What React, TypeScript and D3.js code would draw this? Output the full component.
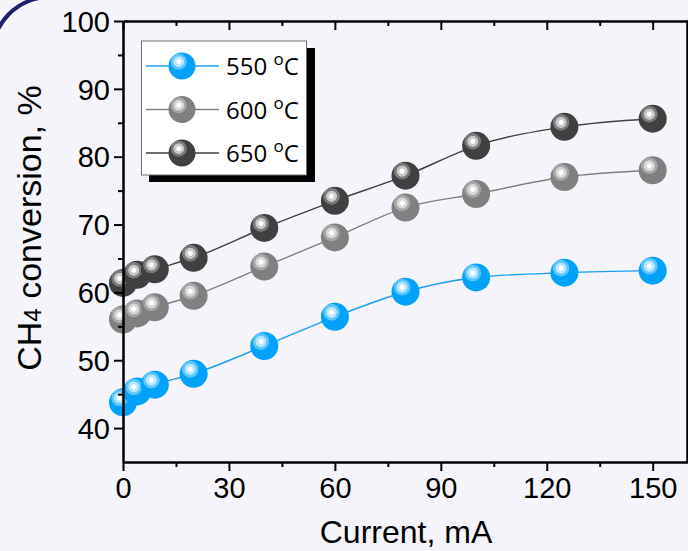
import React, { useEffect, useRef } from 'react';
import * as d3 from 'd3';

// current (mA) and CH4 conversion (%) per temperature
const current = [0, 4, 9, 20, 40, 60, 80, 100, 125, 150];
const conv550 = [43.8, 45.4, 46.4, 48.0, 52.1, 56.4, 60.1, 62.2, 62.9, 63.2];
const conv600 = [56.0, 56.9, 57.8, 59.5, 63.8, 68.1, 72.5, 74.5, 77.0, 78.0];
const conv650 = [61.4, 62.6, 63.4, 65.1, 69.5, 73.5, 77.2, 81.6, 84.4, 85.6];
const seriesNames = ['550', '600', '650'];
const xTicks = [0, 30, 60, 90, 120, 150];
const yTicks = [40, 50, 60, 70, 80, 90, 100];

const W = 688;
const H = 551;

const App = () => {
  const ref = useRef<SVGSVGElement>(null);

  useEffect(() => {
    const svg = d3.select(ref.current);
    svg.selectAll('*').remove();

    const x = d3.scaleLinear().domain([0, 160]).range([123, 688]);
    const y = d3.scaleLinear().domain([35, 100]).range([462, 21]);

    const series = [
      { name: seriesNames[0], values: conv550, base: '#00a2fb', ring: '#5cc6ff', light: '#b8e6ff', line: '#1a9ff0' },
      { name: seriesNames[1], values: conv600, base: '#808080', ring: '#a6a6a6', light: '#d8d8d8', line: '#808080' },
      { name: seriesNames[2], values: conv650, base: '#404040', ring: '#7a7a7a', light: '#c8c8c8', line: '#404040' },
    ];

    svg.append('rect').attr('width', W).attr('height', H).attr('fill', '#f4f4fa');

    // corner arc of the slide frame
    svg.append('path')
      .attr('d', d3.arc()({ innerRadius: 56, outerRadius: 60, startAngle: -Math.PI / 2, endAngle: 0 }) as string)
      .attr('transform', 'translate(50,55)')
      .attr('fill', '#1f216e');

    const defs = svg.append('defs');
    series.forEach((s, i) => {
      const g = defs.append('radialGradient')
        .attr('id', `ball${i}`)
        .attr('cx', 0.38).attr('cy', 0.34).attr('r', 0.7);
      g.append('stop').attr('offset', 0).attr('stop-color', '#ffffff');
      g.append('stop').attr('offset', 0.1).attr('stop-color', '#ffffff');
      g.append('stop').attr('offset', 0.16).attr('stop-color', s.light);
      g.append('stop').attr('offset', 0.26).attr('stop-color', s.light);
      g.append('stop').attr('offset', 0.3).attr('stop-color', s.ring);
      g.append('stop').attr('offset', 0.4).attr('stop-color', s.ring);
      g.append('stop').attr('offset', 0.44).attr('stop-color', s.base);
      g.append('stop').attr('offset', 1).attr('stop-color', s.base);
    });

    const line = d3.line<[number, number]>()
      .x((d) => x(d[0]))
      .y((d) => y(d[1]))
      .curve(d3.curveMonotoneX);

    series.forEach((s, i) => {
      const pts = current.map((c, j) => [c, s.values[j]] as [number, number]);
      svg.append('path')
        .attr('d', line(pts))
        .attr('fill', 'none')
        .attr('stroke', s.line)
        .attr('stroke-width', 1.4);
      svg.append('g').selectAll('circle').data(pts).enter().append('circle')
        .attr('cx', (d) => x(d[0]))
        .attr('cy', (d) => y(d[1]))
        .attr('r', 14)
        .attr('fill', `url(#ball${i})`);
    });

    // axes
    const axisFont = '"Liberation Sans", Arial, sans-serif';
    const bottom = svg.append('g').attr('transform', 'translate(0,462)')
      .call(d3.axisBottom(x).tickValues(xTicks).tickSize(9).tickSizeOuter(0).tickPadding(4));
    svg.append('g').attr('transform', 'translate(0,462)')
      .call(d3.axisBottom(x).tickValues(d3.range(15, 160, 30)).tickSize(5).tickSizeOuter(0).tickFormat(() => ''));
    svg.append('g').attr('transform', 'translate(0,21)')
      .call(d3.axisBottom(x).tickValues(xTicks).tickSize(9).tickSizeOuter(0).tickFormat(() => ''));
    svg.append('g').attr('transform', 'translate(0,21)')
      .call(d3.axisBottom(x).tickValues(d3.range(15, 160, 30)).tickSize(5).tickSizeOuter(0).tickFormat(() => ''));
    const left = svg.append('g').attr('transform', 'translate(123,0)')
      .call(d3.axisLeft(y).tickValues(yTicks).tickSize(9).tickSizeOuter(0).tickPadding(4));
    svg.append('g').attr('transform', 'translate(123,0)')
      .call(d3.axisLeft(y).tickValues(d3.range(45, 100, 10)).tickSize(5).tickSizeOuter(0).tickFormat(() => ''));
    svg.append('g').attr('transform', 'translate(687,0)')
      .call(d3.axisLeft(y).tickValues(yTicks).tickSize(-9).tickSizeOuter(0).tickFormat(() => ''));
    svg.append('g').attr('transform', 'translate(687,0)')
      .call(d3.axisLeft(y).tickValues(d3.range(45, 100, 10)).tickSize(-5).tickSizeOuter(0).tickFormat(() => ''));

    svg.selectAll('.domain').attr('stroke', '#000').attr('stroke-width', 2);
    svg.selectAll('.tick line').attr('stroke', '#000').attr('stroke-width', 2);
    [bottom, left].forEach((a) => a.selectAll('text')
      .attr('font-family', axisFont).attr('font-size', 29).attr('fill', '#000'));
    bottom.selectAll('text').attr('dy', '0.8em');
    left.selectAll('text').attr('dy', '0.35em');

    svg.append('text')
      .attr('x', 406).attr('y', 543)
      .attr('text-anchor', 'middle')
      .attr('font-family', axisFont).attr('font-size', 32)
      .text('Current, mA');

    const yl = svg.append('text')
      .attr('transform', 'translate(41,228) rotate(-90)')
      .attr('text-anchor', 'middle')
      .attr('font-family', axisFont).attr('font-size', 34);
    yl.append('tspan').text('CH');
    yl.append('tspan').attr('font-size', 24).text('4');
    yl.append('tspan').text(' conversion, %');

    // legend
    const lg = svg.append('g');
    lg.append('rect').attr('x', 149).attr('y', 48).attr('width', 166).attr('height', 134).attr('fill', '#000');
    lg.append('rect').attr('x', 141.5).attr('y', 41).attr('width', 165).attr('height', 134)
      .attr('fill', '#ffffff').attr('stroke', '#707070').attr('stroke-width', 1);
    series.forEach((s, i) => {
      const cy = 66 + i * 43.5;
      lg.append('line').attr('x1', 146).attr('x2', 219).attr('y1', cy).attr('y2', cy)
        .attr('stroke', s.line).attr('stroke-width', 1.4);
      lg.append('circle').attr('cx', 182).attr('cy', cy).attr('r', 13.5).attr('fill', `url(#ball${i})`);
      const t = lg.append('text').attr('x', 226).attr('y', cy + 9)
        .attr('font-family', '"Open Sans", "Noto Sans", sans-serif').attr('font-size', 24).attr('fill', '#000');
      t.append('tspan').text(`${s.name} `);
      t.append('tspan').attr('font-size', 17).attr('dy', -10).text('o');
      t.append('tspan').attr('dy', 10).text('C');
    });
  }, []);

  return (
    <div style={{ position: 'fixed', left: 0, top: 0 }}>
      <svg ref={ref} width={W} height={H} style={{ display: 'block' }} />
    </div>
  );
};

export default App;
